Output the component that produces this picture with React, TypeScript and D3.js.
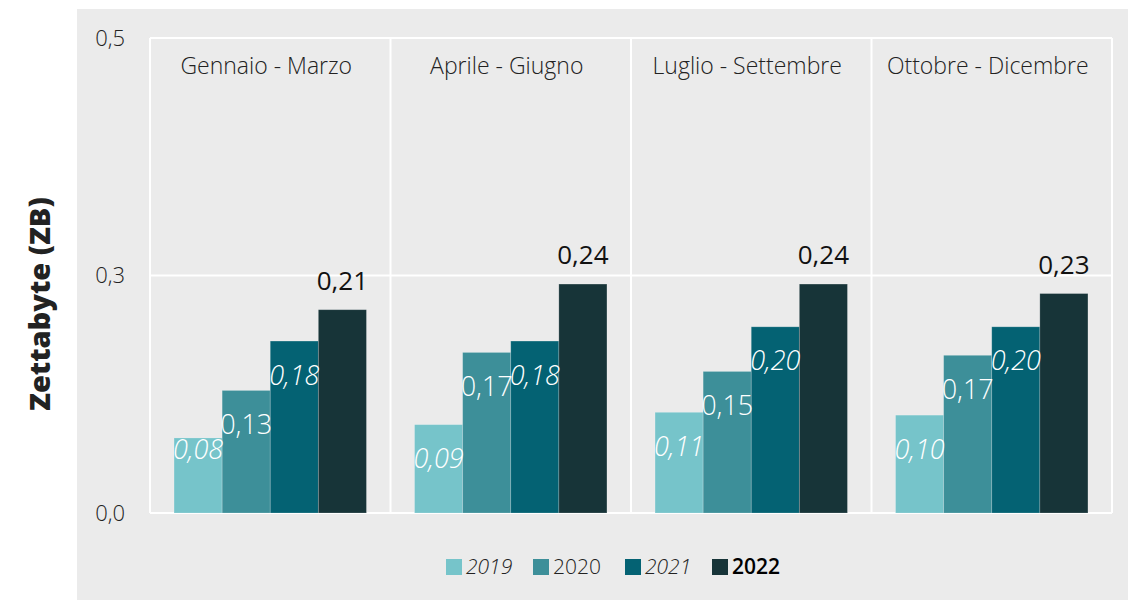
import React from 'react';
import * as d3 from 'd3';

const quarters = ['Gennaio - Marzo', 'Aprile - Giugno', 'Luglio - Settembre', 'Ottobre - Dicembre'];
const years = ['2019', '2020', '2021', '2022'];
const v2019 = [0.079, 0.093, 0.106, 0.103];
const v2020 = [0.129, 0.169, 0.149, 0.166];
const v2021 = [0.181, 0.181, 0.196, 0.196];
const v2022 = [0.214, 0.241, 0.241, 0.231];
const yTicks = [0, 0.25, 0.5];
const colors = ['#76c4ca', '#3d8f99', '#046273', '#173438'];

const series = [v2019, v2020, v2021, v2022];

const width = 1128;
const height = 600;
const plot = { left: 150, right: 1112, top: 38, bottom: 513 };
const font = "'Open Sans', 'Noto Sans', sans-serif";

const it = d3.formatLocale({ decimal: ',', thousands: '.', grouping: [3], currency: ['€', ''] });
const fmt1 = it.format('.1f');
const fmt2 = it.format('.2f');

const App = () => {
  const x0 = d3.scaleBand().domain(quarters).range([plot.left, plot.right]);
  const x1 = d3.scaleBand().domain(years).range([0, x0.bandwidth()]).paddingOuter(0.5);
  const y = d3.scaleLinear().domain([0, 0.5]).range([plot.bottom, plot.top]);

  // legend layout
  const legendX = [446, 533, 625, 712];

  return (
    <svg width={width} height={height} style={{ position: 'absolute', left: 0, top: 0 }}>
      <rect x={77} y={9} width={width - 77} height={height - 9} fill="#ebebeb" />

      {/* gridlines and frame */}
      {yTicks.map(t => (
        <line key={t} x1={plot.left} x2={plot.right} y1={y(t)} y2={y(t)} stroke="#fff" strokeWidth={2} />
      ))}
      <line x1={plot.left} x2={plot.left} y1={plot.top} y2={plot.bottom} stroke="#fff" strokeWidth={2} />
      {quarters.map(q => (
        <line key={q} x1={(x0(q) as number) + x0.bandwidth()} x2={(x0(q) as number) + x0.bandwidth()}
          y1={plot.top} y2={plot.bottom} stroke="#fff" strokeWidth={2} />
      ))}

      {yTicks.map(t => (
        <text key={t} x={125} y={y(t)} dy="0.35em" textAnchor="end" fontFamily={font} fontWeight={300}
          fontSize={22} fill="#222">{fmt1(t)}</text>
      ))}

      <text transform="translate(40,304) rotate(-90)" textAnchor="middle" dy="0.35em" fontFamily={font}
        fontWeight={800} fontSize={29} fill="#222">Zettabyte (ZB)</text>

      {quarters.map(q => (
        <text key={q} x={(x0(q) as number) + x0.bandwidth() / 2 - 4} y={74} textAnchor="middle"
          fontFamily={font} fontWeight={300} fontSize={23} fill="#222">{q}</text>
      ))}

      {quarters.map((q, qi) => (
        <g key={q} transform={`translate(${x0(q)},0)`}>
          {years.map((yr, si) => {
            const v = series[si][qi];
            const bx = x1(yr) as number;
            const top = y(v);
            return (
              <rect key={yr} x={bx} y={top} width={x1.bandwidth()} height={plot.bottom - top}
                fill={colors[si]} stroke="#ffffff" strokeOpacity={0.25} strokeWidth={0.8} />
            );
          })}
          {years.map((yr, si) => {
            const v = series[si][qi];
            const cx = (x1(yr) as number) + x1.bandwidth() / 2;
            const top = y(v);
            if (si === 3) {
              return (
                <text key={yr} x={cx} y={top - 20} textAnchor="middle" fontFamily={font} fontSize={26}
                  fill="#111">{fmt2(v)}</text>
              );
            }
            const h = plot.bottom - top;
            const cy = h < 85 ? top + 12 : top + 34;
            return (
              <text key={yr} x={cx} y={cy} dy="0.35em" textAnchor="middle" fontFamily={font}
                fontWeight={300} fontStyle={si === 1 ? 'normal' : 'italic'} fontSize={27}
                fill="#fff">{fmt2(v)}</text>
            );
          })}
        </g>
      ))}

      {years.map((yr, i) => (
        <g key={yr} transform={`translate(${legendX[i]},567)`}>
          <rect x={0} y={-8} width={16} height={16} fill={colors[i]} />
          <text x={20} y={0} dy="0.35em" fontFamily={font} fontSize={21}
            fontWeight={i === 3 ? 600 : 300} fontStyle={i === 0 || i === 2 ? 'italic' : 'normal'}
            fill={i === 3 ? '#000' : '#222'}>{yr}</text>
        </g>
      ))}
    </svg>
  );
};

export default App;
